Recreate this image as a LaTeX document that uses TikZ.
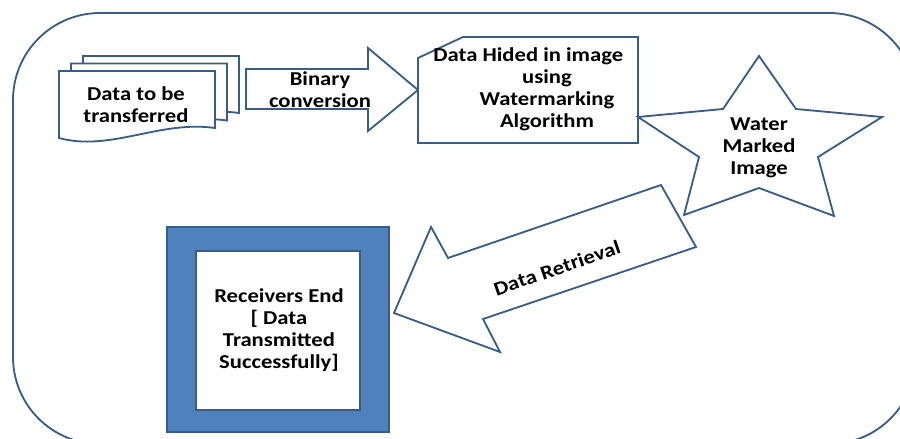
\documentclass[tikz,border=0pt]{standalone}
\usepackage{fontspec}
\setmainfont{Carlito}[FakeStretch=1.15]
\usepackage{xcolor}

\definecolor{lineblue}{HTML}{385D8A}
\definecolor{boxblue}{HTML}{4F81BD}

\begin{document}
\begin{tikzpicture}[x=0.025cm, y=-0.025cm,
  outline/.style={draw=lineblue, line width=1.3pt, fill=white, line join=miter},
  lbl/.style={font=\fontsize{14}{15.6}\selectfont\bfseries, align=center, inner sep=0pt}]

\clip (0,0) rectangle (900,439);

% outer frame
\draw[outline, rounded corners=2.175cm] (13,13) rectangle (916,444);

% stack of documents
\foreach \dx/\dy in {24/-15, 12/-7.5, 0/0}
{
\begin{scope}[shift={(\dx,\dy)}]
\filldraw[outline] (59,71) -- (215,71) -- (215,128) .. controls (160,120) and (110,152) .. (59,138) -- cycle;
\end{scope}
}
\node[lbl] (docs) at (136,105) {Data to be\\transferred};

% binary conversion arrow
\filldraw[outline] (246,69) -- (368,69) -- (368,48) -- (418,90) -- (368,131) -- (368,109) -- (246,109) -- cycle;
\node[lbl] (binary) at (320,90) {Binary\\conversion};

% watermarking box
\filldraw[outline] (463,37) -- (638,37) -- (638,143) -- (418,143) -- (418,58) -- cycle;
\node[lbl] (hide) at (547,89.5) {\hspace*{-1.9em}Data Hided in image\\using\\Watermarking\\Algorithm};

% star
\filldraw[outline] (759,56) -- (796,109) -- (882,117) -- (818,157) -- (834,216) -- (759,188)
  -- (684,215) -- (699,157) -- (638,117) -- (723,109) -- cycle;
\node[lbl] (marked) at (759,148) {Water\\Marked\\Image};

% retrieval arrow
\filldraw[outline] (394,313) -- (431,227) -- (448,258) -- (661,185) -- (696,247) -- (483,319) -- (500,352) -- cycle;
\node[lbl, rotate=19] (retrieval) at (557,268) {Data Retrieval};

% receivers end
\filldraw[fill=boxblue, draw=lineblue, line width=0.8pt] (167,227) rectangle (389,432);
\filldraw[fill=white, draw=lineblue, line width=0.8pt] (196,251) rectangle (360,410);
\node[lbl] (receiver) at (279,330) {Receivers End\\{[} Data\\Transmitted\\Successfully]};

\end{tikzpicture}
\end{document}
